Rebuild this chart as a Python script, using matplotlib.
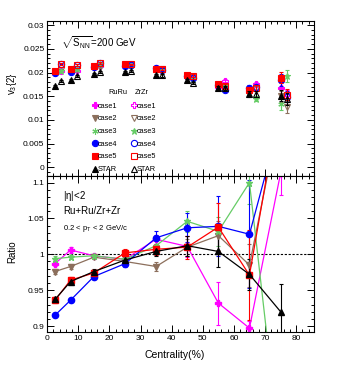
import matplotlib
matplotlib.use("Agg")
import matplotlib.pyplot as plt
from matplotlib.lines import Line2D
from matplotlib.ticker import MultipleLocator

plt.rcParams['font.family'] = ['Liberation Sans', 'DejaVu Sans']
plt.rcParams['mathtext.fontset'] = 'custom'
plt.rcParams['mathtext.rm'] = 'Liberation Sans'
plt.rcParams['mathtext.it'] = 'Liberation Sans'

# centrality bins (%)
cent = [2.5, 7.5, 15, 25, 35, 45, 55, 65, 75]
zr_shift = 2.0

# v3{2} for RuRu
ru_case1 = [0.0201, 0.0205, 0.0212, 0.0215, 0.0210, 0.0193, 0.0170, 0.0160, 0.0167]
ru_case2 = [0.0200, 0.0203, 0.0211, 0.0215, 0.0205, 0.0193, 0.0174, 0.0163, 0.0150]
ru_case3 = [0.0201, 0.0205, 0.0212, 0.0215, 0.0210, 0.0195, 0.0174, 0.0160, 0.0133]
ru_case4 = [0.0199, 0.0201, 0.0211, 0.0214, 0.0209, 0.0193, 0.0173, 0.0168, 0.0184]
ru_case5 = [0.0204, 0.0208, 0.0214, 0.0217, 0.0208, 0.0194, 0.0176, 0.0164, 0.0189]
ru_star = [0.0171, 0.0184, 0.0196, 0.0202, 0.0194, 0.0184, 0.0168, 0.0155, 0.0151]

# v3{2} for ZrZr
zr_case1 = [0.0204, 0.0204, 0.0213, 0.0217, 0.0206, 0.0191, 0.0182, 0.0175, 0.0152]
zr_case2 = [0.0205, 0.0207, 0.0212, 0.0216, 0.0208, 0.0191, 0.0170, 0.0166, 0.0127]
zr_case3 = [0.0203, 0.0208, 0.0218, 0.0216, 0.0207, 0.0187, 0.0169, 0.0145, 0.0193]
zr_case4 = [0.0219, 0.0216, 0.0220, 0.0216, 0.0206, 0.0188, 0.0163, 0.0170, 0.0149]
zr_case5 = [0.0218, 0.0215, 0.0221, 0.0217, 0.0208, 0.0193, 0.0172, 0.0168, 0.0153]
zr_star = [0.0183, 0.0192, 0.0201, 0.0204, 0.0194, 0.0178, 0.0168, 0.0154, 0.0144]

v3_err = [0.0002, 0.0002, 0.0002, 0.0002, 0.0003, 0.0003, 0.0004, 0.0006, 0.0012]

# ratio RuRu / ZrZr
r_case1 = [0.987, 1.006, 0.998, 0.993, 1.021, 1.011, 0.932, 0.897, 1.113]
r_case2 = [0.976, 0.983, 0.996, 0.990, 0.983, 1.010, 1.026, 0.985, 1.20]
r_case3 = [0.994, 0.996, 0.998, 0.993, 1.012, 1.046, 1.032, 1.100, 0.72]
r_case4 = [0.915, 0.936, 0.969, 0.987, 1.023, 1.037, 1.039, 1.028, 1.19]
r_case5 = [0.936, 0.964, 0.974, 1.002, 1.007, 1.010, 1.038, 0.971, 1.22]
r_star = [0.937, 0.962, 0.976, 0.992, 1.004, 1.012, 1.004, 0.972, 0.920]

e_case1 = [0.003, 0.004, 0.003, 0.003, 0.006, 0.015, 0.030, 0.010, 0.03]
e_case2 = [0.003, 0.003, 0.003, 0.004, 0.006, 0.012, 0.020, 0.030, 0.05]
e_case3 = [0.003, 0.003, 0.003, 0.004, 0.006, 0.015, 0.020, 0.030, 0.05]
e_case4 = [0.003, 0.003, 0.004, 0.005, 0.010, 0.020, 0.042, 0.075, 0.08]
e_case5 = [0.004, 0.004, 0.004, 0.005, 0.008, 0.016, 0.033, 0.063, 0.08]
e_star = [0.003, 0.003, 0.003, 0.004, 0.007, 0.014, 0.021, 0.022, 0.038]

labels = ['case1', 'case2', 'case3', 'case4', 'case5', 'STAR']
colors = ['#ff00ff', '#8c6f5c', '#66cc66', '#0000ff', '#ff0000', '#000000']
ru_markers = ['P', 'v', (6, 2, 0), 'o', 's', '^']
zr_markers = ['P', 'v', '*', 'o', 's', '^']
zr_filled = [False, False, True, False, False, False]

ru_sets = [ru_case1, ru_case2, ru_case3, ru_case4, ru_case5, ru_star]
zr_sets = [zr_case1, zr_case2, zr_case3, zr_case4, zr_case5, zr_star]
r_sets = [r_case1, r_case2, r_case3, r_case4, r_case5, r_star]
e_sets = [e_case1, e_case2, e_case3, e_case4, e_case5, e_star]

fig = plt.figure(figsize=(3.55, 3.74), dpi=100)
ax1 = fig.add_axes([0.133, 0.529, 0.752, 0.415])
ax2 = fig.add_axes([0.133, 0.112, 0.752, 0.417])

ru_handles = []
zr_handles = []
for i in range(6):
    c = colors[i]
    ax1.errorbar(cent, ru_sets[i], yerr=v3_err, fmt='none', ecolor=c,
                 elinewidth=0.8, capsize=1.2, capthick=0.8)
    ax1.plot(cent, ru_sets[i], ls='none', marker=ru_markers[i], ms=4.5,
             color=c, mfc=c, mec=c, mew=0.8)
    xz = [x + zr_shift for x in cent]
    ax1.errorbar(xz, zr_sets[i], yerr=v3_err, fmt='none', ecolor=c,
                 elinewidth=0.8, capsize=1.2, capthick=0.8)
    fc = c if zr_filled[i] else 'none'
    ax1.plot(xz, zr_sets[i], ls='none', marker=zr_markers[i], ms=4.5,
             color=c, mfc=fc, mec=c, mew=0.8)
    ru_handles.append(Line2D([], [], ls='none', marker=ru_markers[i], ms=4.5,
                             color=c, mfc=c, mec=c, mew=0.8))
    zr_handles.append(Line2D([], [], ls='none', marker=zr_markers[i], ms=4.5,
                             color=c, mfc=fc, mec=c, mew=0.8))

leg = ax1.legend(ru_handles + zr_handles, labels + labels, ncol=2,
                 loc='upper left', bbox_to_anchor=(0.17, 0.474),
                 frameon=False, fontsize=5.3, handlelength=0.6,
                 handletextpad=0.1, columnspacing=2.0, labelspacing=0.75,
                 borderpad=0, borderaxespad=0)
ax1.text(0.264, 0.542, 'RuRu', transform=ax1.transAxes, fontsize=5.3,
         ha='center', va='center')
ax1.text(0.355, 0.542, 'ZrZr', transform=ax1.transAxes, fontsize=5.3,
         ha='center', va='center')
ax1.text(0.05, 0.86, r'$\sqrt{S_{\rm NN}}$=200 GeV', transform=ax1.transAxes,
         fontsize=7, ha='left', va='center')

ax1.set_xlim(0, 85.8)
ax1.set_ylim(-0.0019, 0.0309)
ax1.yaxis.set_minor_locator(MultipleLocator(0.001))
ax1.set_yticks([0, 0.005, 0.01, 0.015, 0.02, 0.025, 0.03])
ax1.set_yticklabels(['0', '0.005', '0.01', '0.015', '0.02', '0.025', '0.03'])
ax1.tick_params(labelbottom=False)

# ratio panel
ax2.axhline(1.0, color='black', ls=(0, (2, 1.5)), lw=0.8, zorder=1)
for i in range(6):
    c = colors[i]
    ax2.errorbar(cent, r_sets[i], yerr=e_sets[i], color=c, lw=0.9,
                 marker=zr_markers[i], ms=4.5,
                 mfc=c, mec=c, elinewidth=0.8, capsize=1.2, capthick=0.8)

ax2.set_xlim(0, 85.8)
ax2.set_ylim(0.8915, 1.109)
ax2.set_yticks([0.9, 0.95, 1.0, 1.05, 1.1])
ax2.set_yticklabels(['0.9', '0.95', '1', '1.05', '1.1'])
ax2.yaxis.set_minor_locator(MultipleLocator(0.01))
ax2.text(0.06, 0.87, r'|$\eta$|<2', transform=ax2.transAxes, fontsize=7,
         ha='left', va='center')
ax2.text(0.06, 0.775, 'Ru+Ru/Zr+Zr', transform=ax2.transAxes, fontsize=7,
         ha='left', va='center')
ax2.text(0.06, 0.665, r'0.2 < p$_{\rm T}$ < 2 GeV/c', transform=ax2.transAxes,
         fontsize=5.5, ha='left', va='center')

for ax in (ax1, ax2):
    ax.xaxis.set_major_locator(MultipleLocator(10))
    ax.xaxis.set_minor_locator(MultipleLocator(2))
    ax.tick_params(which='both', direction='in', top=True, right=True,
                   labelsize=6, width=0.7, pad=2)
    ax.tick_params(which='major', length=5)
    ax.tick_params(which='minor', length=2.5)
    for s in ax.spines.values():
        s.set_linewidth(0.8)

fig.text(12 / 355, 1 - 84 / 374, r'v$_3${2}', rotation=90, fontsize=7,
         ha='center', va='center')
fig.text(12 / 355, 1 - 252 / 374, 'Ratio', rotation=90, fontsize=7,
         ha='center', va='center')
fig.text(175 / 355, 1 - 355 / 374, 'Centrality(%)', fontsize=7.5,
         ha='center', va='center')

fig.savefig('out.png', dpi=100)
